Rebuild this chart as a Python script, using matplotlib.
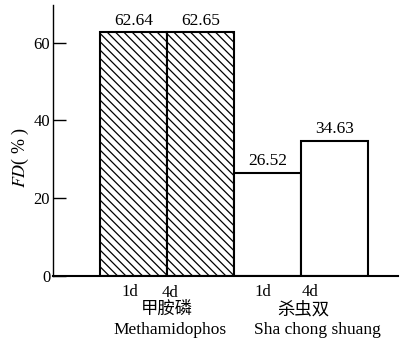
import matplotlib
matplotlib.use('Agg')
import matplotlib.pyplot as plt

plt.rcParams['font.family'] = ['Liberation Serif', 'Noto Sans CJK SC', 'DejaVu Sans']
plt.rcParams['hatch.linewidth'] = 0.9

# data
days = ['1d', '4d', '1d', '4d']
fd_values = [62.64, 62.65, 26.52, 34.63]
hatched = [True, True, False, False]
groups_cn = ['甲胺磷', '杀虫双']
groups_en = ['Methamidophos', 'Sha chong shuang']
yticks = [0, 20, 40, 60]

fig = plt.figure(figsize=(4.01, 3.43), dpi=100)
ax = fig.add_axes([53/401, 1 - 276/343, (398-53)/401, (276-5)/343])

x = list(range(len(fd_values)))
for xi, v, h in zip(x, fd_values, hatched):
    ax.bar(xi, v, width=1.0, facecolor='white', edgecolor='black',
           linewidth=1.5, hatch='\\\\\\\\' if h else None)
    ax.text(xi, v + 1.0, f'{v:.2f}', ha='center', va='bottom', fontsize=12.5)

ax.set_xlim(-1.2, 3.95)
ax.set_ylim(0, 69.7)
ax.spines['top'].set_visible(False)
ax.spines['right'].set_visible(False)
ax.spines['left'].set_linewidth(1.0)
ax.spines['bottom'].set_linewidth(1.5)

ax.set_yticks(yticks)
ax.set_yticklabels([str(t) for t in yticks], fontsize=12)
ax.tick_params(axis='y', direction='in', length=9, width=1.0, pad=2)

# day labels under each bar
day_pos = [-0.05, 0.54, 1.93, 2.63]
day_y = [-4.0, -4.4, -4.0, -4.0]
ax.set_xticks([])
for p, yy, d in zip(day_pos, day_y, days):
    ax.text(p, yy, d, ha='center', va='center', fontsize=12)

grp_pos = [0.5, 2.53]
for p, cn in zip(grp_pos, groups_cn):
    ax.text(p, -8.8, cn, ha='center', va='center', fontsize=12.5)
grp_en_pos = [0.54, 2.75]
for p, en in zip(grp_en_pos, groups_en):
    ax.text(p, -13.9, en, ha='center', va='center', fontsize=12.5)

fig.text(20/401, 1 - 157/343, '$FD$( % )', rotation=90, ha='center', va='center',
         fontsize=13, math_fontfamily='stix')

fig.savefig('out.png', dpi=100)
